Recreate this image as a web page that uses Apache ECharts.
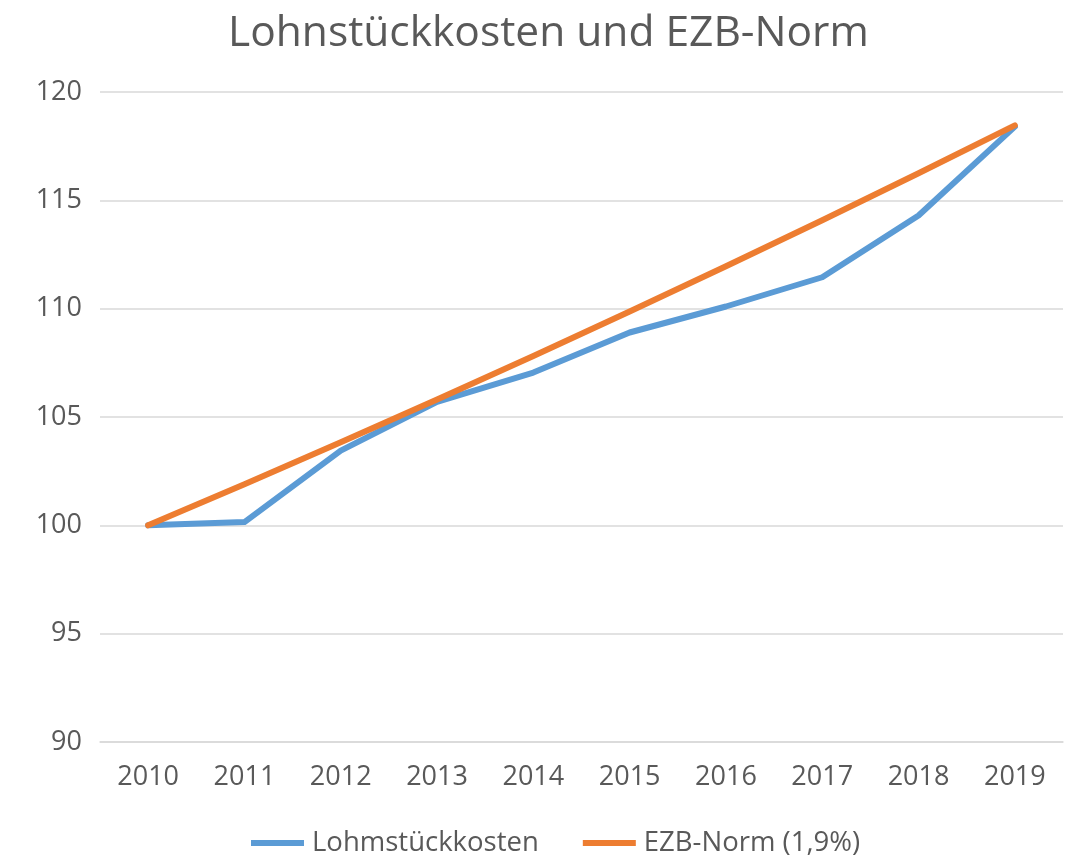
<!DOCTYPE html>
<html>
<head>
<meta charset="utf-8">
<script src="https://cdn.jsdelivr.net/npm/echarts@6/dist/echarts.min.js"></script>
<style>
  html, body { margin: 0; padding: 0; background: #fff; }
  #main { width: 1069px; height: 859px; }
</style>
</head>
<body>
<div id="main"></div>
<script>
// Jahre (x-Achse)
let years = ['2010', '2011', '2012', '2013', '2014', '2015', '2016', '2017', '2018', '2019'];
// Lohnstückkosten, Index 2010 = 100
let lohn = [100, 100.15, 103.45, 105.7, 107.05, 108.9, 110.1, 111.45, 114.3, 118.4];
// EZB-Norm 1,9% p.a.
let ezb = [100, 101.9, 103.84, 105.81, 107.82, 109.87, 111.96, 114.08, 116.25, 118.46];

let myChart = echarts.init(document.getElementById('main'));
let font = 'Open Sans';
let textColor = '#595959';

let option = {
    backgroundColor: '#fff',
    animation: false,
    title: {
        text: 'Lohnstückkosten und EZB-Norm',
        left: 223,
        top: 7,
        textStyle: {
            color: textColor,
            fontFamily: font,
            fontSize: 42.5,
            fontWeight: 'normal'
        }
    },
    legend: {
        bottom: -3,
        left: 246,
        itemWidth: 53,
        itemHeight: 6,
        itemGap: 44,
        icon: 'rect',
        textStyle: {
            color: textColor,
            fontFamily: font,
            fontSize: 27.5,
            padding: [0, 0, 0, 3]
        },
        data: ['Lohmstückkosten', 'EZB-Norm (1,9%)']
    },
    grid: {
        left: 100,
        right: 6,
        top: 92,
        bottom: 117
    },
    xAxis: {
        type: 'category',
        data: years,
        boundaryGap: true,
        axisLine: { show: true, lineStyle: { color: '#d9d9d9', width: 1.5 } },
        axisTick: { show: false },
        axisLabel: {
            color: textColor,
            fontFamily: font,
            fontSize: 27,
            margin: 22
        }
    },
    yAxis: {
        type: 'value',
        min: 90,
        max: 120,
        interval: 5,
        axisLine: { show: false },
        axisTick: { show: false },
        splitLine: { lineStyle: { color: '#d9d9d9', width: 1.5 } },
        axisLabel: {
            color: textColor,
            fontFamily: font,
            fontSize: 27,
            margin: 18
        }
    },
    series: [
        {
            name: 'Lohmstückkosten',
            type: 'line',
            data: lohn,
            symbol: 'none',
            color: '#5b9bd5',
            lineStyle: { width: 6, cap: 'round', join: 'round' }
        },
        {
            name: 'EZB-Norm (1,9%)',
            type: 'line',
            data: ezb,
            symbol: 'none',
            color: '#ed7d31',
            lineStyle: { width: 6, cap: 'round', join: 'round' }
        }
    ]
};
myChart.setOption(option);
</script>
</body>
</html>
